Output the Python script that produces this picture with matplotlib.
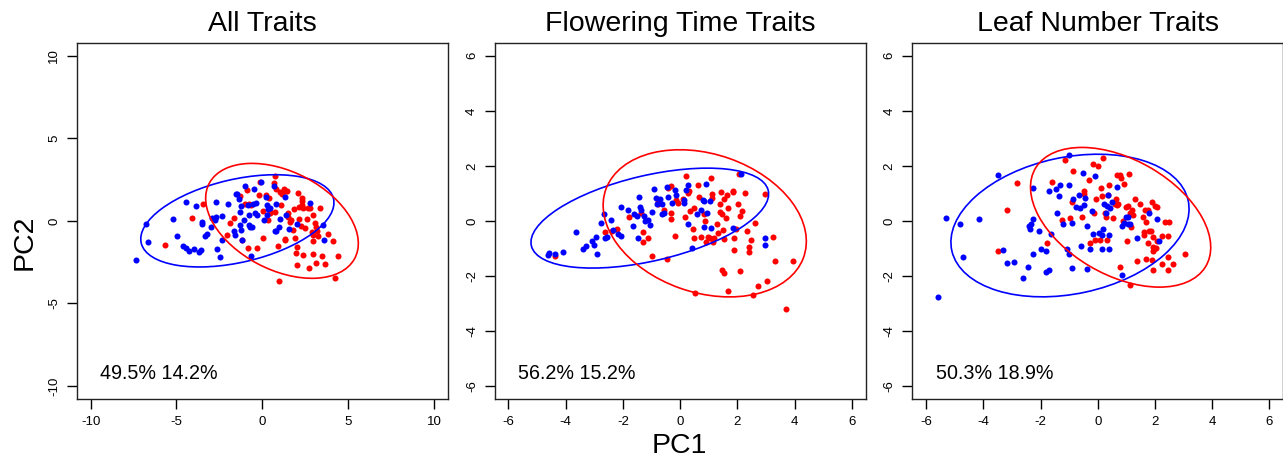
import matplotlib
matplotlib.use("Agg")
import matplotlib.pyplot as plt
from matplotlib.patches import Ellipse

plt.rcParams['font.family'] = ['Liberation Sans', 'DejaVu Sans']

titles = ["All Traits", "Flowering Time Traits", "Leaf Number Traits"]
variance_labels = ["49.5% 14.2%", "56.2% 15.2%", "50.3% 18.9%"]
axis_limits = [10, 6, 6]
tick_values = [[-10, -5, 0, 5, 10], [-6, -4, -2, 0, 2, 4, 6], [-6, -4, -2, 0, 2, 4, 6]]

# ---------------- Panel 1: All Traits ----------------
all_blue_x = [-7.36, -6.78, -6.65, -5.17, -4.96, -4.42, -4.61, -4.42, -4.24, -3.97, -3.86, -3.68,
              -3.55, -3.53, -3.49, -3.33, -3.22, -3.00, -2.91, -2.73, -2.67, -2.62, -2.48, -2.67,
              -2.33, -2.35, -2.00, -1.65, -1.61, -1.55, -1.47, -1.36, -1.32, -1.28, -1.26, -1.26,
              -1.18, -1.05, -0.99, -0.83, -0.78, -0.78, -0.74, -0.66, -0.58, -0.52, -0.47, -0.43,
              -0.35, -0.29, -0.06, 0.10, 0.19, 0.25, 0.29, 0.33, 0.43, 0.68, 0.72, 0.78, 0.81,
              0.97, 1.05, 1.30, 1.40, 1.55, 2.03, 2.81, 3.55, 3.59]
all_blue_y = [-2.35, -0.18, -1.26, 0.10, -0.93, 1.13, -1.52, -1.62, -1.82, -1.72, 0.93, -1.86,
              -1.78, -0.06, -0.22, -0.89, -0.81, -0.36, 0.20, 0.04, 1.13, -1.68, -2.19, 0.24,
              0.30, -1.17, 1.01, -0.61, -0.87, 1.62, 1.60, 1.30, 0.51, -0.26, -0.57, 0.91,
              -1.17, 0.04, 2.13, 0.95, 0.34, -0.26, -0.40, -2.15, -0.36, 1.01, 1.92, 0.45,
              1.11, 0.36, 2.35, 0.04, 1.46, 0.97, 0.36, 0.69, 0.79, 2.13, -0.61, 1.01, -0.63,
              -0.36, 0.10, 1.42, 0.36, -0.47, -0.22, 1.11, -0.28, -1.17]
all_red_x = [-5.64, -4.07, -3.47, -2.07, -1.86, -1.67, -1.28, -1.20, -0.89, -1.01, -0.83, -0.78,
             -0.66, -0.29, -0.16, -0.14, 0.04, 0.04, 0.23, 0.33, 0.41, 0.43, 0.47, 0.72, 0.68,
             0.72, 0.81, 0.93, 0.99, 1.05, 1.07, 1.14, 1.26, 1.36, 1.43, 1.30, 1.34, 1.51, 1.51,
             1.59, 1.69, 1.78, 1.84, 1.88, 1.98, 2.00, 2.03, 2.07, 2.13, 2.17, 2.25, 2.29, 2.31,
             2.36, 2.34, 2.40, 2.50, 2.62, 2.67, 2.71, 2.81, 2.89, 2.95, 2.98, 2.98, 3.06, 3.12,
             3.14, 3.20, 3.24, 3.39, 3.47, 3.63, 3.84, 4.11, 4.22, 4.40, 2.95]
all_red_y = [-1.44, 0.18, 1.01, -0.85, -0.12, 0.18, 1.50, -1.13, 1.86, 1.05, -1.66, 1.05,
             0.95, -1.66, 1.56, 2.37, -1.01, 0.61, 1.54, 0.04, 1.38, 0.45, 0.53, 2.71, 2.31,
             0.53, 1.96, -1.54, -3.64, 1.76, 0.99, 1.62, 1.92, 1.80, 1.82, -1.09, -1.17, 0.45, 0.24,
             -0.06, 0.04, -0.57, 0.71, -1.03, -1.92, -1.58, -2.69, 1.66, 0.14, 0.81, -0.32, 0.99, 1.23,
             -2.08, 1.36, 0.75, -0.43, 0.14, 0.75, -2.85, 0.75, -0.67, -1.21, -2.02, 0.38, -0.16, -0.36,
             -2.55, -0.61, -0.93, 0.79, -2.15, -2.59, -0.77, -1.21, -3.44, -2.11, -0.87]

# ---------------- Panel 2: Flowering Time Traits ----------------
ft_blue_x = [-4.63, -4.59, -4.37, -4.11, -3.65, -3.40, -3.30, -3.09, -3.00, -2.90, -2.94, -2.77,
             -2.65, -2.62, -2.56, -2.42, -2.35, -2.16, -2.07, -2.06, -1.81, -1.63, -1.61, -1.52,
             -1.42, -1.46, -1.40, -1.38, -1.26, -1.22, -1.11, -1.05, -0.97, -0.93, -0.84, -0.80,
             -0.70, -0.65, -0.58, -0.64, -0.45, -0.41, -0.29, -0.17, -0.13, 0.15, 0.15, 0.21,
             0.27, 0.29, 0.43, 0.58, 0.72, 0.79, 0.82, 0.85, 0.90, 0.93, 1.03, 1.08, 1.84, 2.13,
             2.97, 2.96]
ft_blue_y = [-1.25, -1.16, -1.22, -1.12, -0.42, -1.03, -0.93, -0.74, -0.87, -1.22, -0.58, -0.06,
             0.25, -0.62, -0.58, 0.02, -0.34, -0.48, -0.56, 0.50, 0.39, -0.18, 0.24, 0.18,
             0.87, -0.61, 0.51, 0.41, 0.18, -0.01, 0.02, -0.16, 0.33, 1.15, 0.82, 0.63,
             0.81, 0.24, 0.27, 0.63, 1.24, 0.85, 0.65, 1.12, 0.93, 0.75, 0.65, 1.12,
             1.30, -0.12, -0.97, 0.24, 0.39, 0.75, 0.72, -0.24, 1.33, 0.30, 0.72, -0.25, -0.25, 1.71,
             -0.62, -0.88]
ft_red_x = [-4.38, -2.62, -2.37, -2.21, -1.77, -1.38, -1.31, -1.31, -1.13, -1.00, -0.78, -0.76,
            -0.55, -0.47, -0.44, -0.31, -0.31, -0.33, -0.17, -0.15, -0.08, 0.10, 0.17, 0.20,
            0.26, 0.31, 0.36, 0.47, 0.45, 0.50, 0.52, 0.62, 0.66, 0.73, 0.82, 0.87, 0.91, 0.97,
            1.05, 1.08, 1.11, 1.13, 1.14, 1.19, 1.28, 1.31, 1.38, 1.41, 1.43, 1.46, 1.49, 1.52,
            1.46, 1.52, 1.55, 1.60, 1.63, 1.66, 1.69, 1.84, 1.86, 1.89, 1.90, 1.95, 2.04, 2.05,
            2.10, 2.10, 2.18, 2.27, 2.33, 2.41, 2.41, 2.48, 2.53, 2.62, 2.72, 2.95, 3.05, 3.23,
            3.30, 3.71, 3.96]
ft_red_y = [-1.27, -0.42, -0.36, -0.30, 0.15, 0.30, -0.42, -0.76, -0.62, -1.26, 0.61, 0.69,
            0.41, -1.37, 1.18, 1.27, 0.29, 0.08, -0.55, 0.75, 0.65, 0.81, 0.15, 1.62,
            1.02, 1.08, 0.35, 0.48, -0.29, -0.64, -2.64, 1.30, 0.85, -0.58, 0.24, 0.00, -0.76, -0.58,
            -0.64, 1.54, 0.97, 0.84, -0.76, -0.62, -0.13, -0.44, 0.33, 0.63, 1.05, 0.24, -0.32, -0.67,
            -1.79, -1.88, 0.78, 0.11, 0.93, 0.48, -2.55, 1.09, 1.05, -0.62, -1.07, -0.28, 0.63, 1.72,
            0.19, -1.83, 0.36, 1.03, -0.36, -0.95, -1.13, -0.70, -2.68, -0.07, -2.38, 0.99, -2.18, -0.58,
            -1.47, -3.22, -1.45]

# ---------------- Panel 3: Leaf Number Traits ----------------
ln_blue_x = [-5.60, -5.30, -4.81, -4.71, -4.14, -3.47, -3.32, -3.18, -2.91, -2.60, -2.43, -2.40,
             -2.36, -2.33, -2.28, -2.25, -2.25, -2.05, -1.99, -1.82, -1.80, -1.69, -1.72, -1.64,
             -1.46, -1.41, -1.37, -1.32, -1.22, -1.08, -1.02, -1.01, -1.00, -0.90, -0.90, -0.87,
             -0.77, -0.66, -0.62, -0.59, -0.50, -0.48, -0.43, -0.38, -0.36, -0.27, -0.20, -0.17,
             -0.08, 0.06, 0.15, 0.16, 0.20, 0.23, 0.29, 0.34, 0.37, 0.41, 0.41, 0.44, 0.50, 0.69,
             0.85, 0.86, 0.92, 0.98, 1.05, 1.05, 1.13, 1.36, 1.80, 2.06, 2.15]
ln_blue_y = [-2.76, 0.12, -0.10, -1.31, 0.07, 1.67, -1.05, -1.55, -1.49, -2.06, -1.67, -0.19,
             -0.28, -0.10, 0.05, -1.19, 1.19, -0.38, -1.04, -1.09, -1.85, -1.79, 1.08, -0.46,
             1.14, 0.30, 0.91, 1.30, -0.12, -1.04, 1.32, -1.20, 2.41, -0.07, -1.71, 0.78,
             0.51, 0.93, 0.45, -0.92, 1.75, 0.59, 0.82, -1.75, -0.19, -1.04, 0.36, -0.48,
             1.62, -0.44, -1.04, -0.50, -0.30, 0.63, 0.30, 0.55, 0.93, -0.52, -1.01, 0.45, 0.67, 1.22,
             -1.96, -0.17, -0.07, 0.15, 0.15, -0.10, -0.13, -0.64, 0.27, 0.05, -0.74]
ln_red_x = [-3.47, -3.18, -2.82, -1.76, -1.61, -1.25, -1.13, -0.97, -0.91, -0.87, -0.54, -0.49,
            -0.47, -0.29, -0.28, -0.15, -0.12, -0.09, -0.07, 0.01, 0.08, 0.12, 0.14, 0.20,
            0.27, 0.29, 0.33, 0.38, 0.37, 0.52, 0.59, 0.64, 0.69, 0.72, 0.69, 0.77, 0.81, 0.93,
            0.78, 0.87, 0.99, 1.04, 1.07, 1.12, 1.11, 1.13, 1.15, 1.19, 1.22, 1.30, 1.36, 1.48,
            1.62, 1.62, 1.65, 1.69, 1.70, 1.75, 1.77, 1.80, 1.85, 1.89, 1.91, 1.92, 1.93, 1.92,
            1.94, 1.98, 2.00, 2.04, 2.08, 2.08, 2.26, 2.26, 2.35, 2.44, 2.44, 2.50, 2.64, 3.06,
            2.44, 1.59]
ln_red_y = [-1.09, 0.41, 1.38, -0.79, 1.41, 0.02, 2.23, 0.11, 0.69, 1.82, 0.15, 0.97,
            1.10, 1.50, -0.82, 2.08, 0.30, -0.68, 0.78, 2.00, -0.68, 1.19, 0.90, 2.27,
            0.29, 0.13, -0.70, 1.32, 0.95, 0.12, 0.61, 0.78, 0.58, 0.63, 1.68, 1.66, 1.56, 1.33,
            -1.67, 0.00, 0.51, -0.73, 0.53, 0.29, 1.70, -2.34, -0.22, 0.39, 0.21, 0.78, -1.45, 0.61,
            -0.39, -0.52, 0.39, -0.04, -1.37, 0.39, -0.80, -0.36, -0.38, -1.43, 0.69, -0.95, -1.09, -1.79,
            -0.58, -1.04, 0.55, -1.00, 0.51, -0.75, -0.56, -1.58, -0.04, -1.33, -1.79, -0.04, -1.58, -1.22,
            -0.56, 0.15]

# Ellipses: centre x, centre y, semi-major, semi-minor, angle (deg)
blue_ellipses = [(-1.45, 0.00, 5.76, 2.51, 13.7),
                 (-1.06, 0.10, 4.26, 1.55, 13.8),
                 (-0.97, -0.17, 4.23, 2.48, 12.7)]
red_ellipses = [(1.15, 0.00, 4.81, 2.96, -28.9),
                (0.86, -0.09, 3.67, 2.51, -20.2),
                (0.80, 0.13, 3.47, 2.08, -31.6)]

panels = [(all_blue_x, all_blue_y, all_red_x, all_red_y),
          (ft_blue_x, ft_blue_y, ft_red_x, ft_red_y),
          (ln_blue_x, ln_blue_y, ln_red_x, ln_red_y)]

BLUE = "#0000ff"
RED = "#ff0000"

fig = plt.figure(figsize=(12.83, 4.63), dpi=100)
lefts = [0.0599, 0.3856, 0.7111]
width = 0.2890
bottom, height = 0.138, 0.770

for i, (bx, by, rx, ry) in enumerate(panels):
    ax = fig.add_axes([lefts[i], bottom, width, height])
    lim = axis_limits[i]
    ax.scatter(rx, ry, s=19, c=RED, linewidths=0, zorder=3)
    ax.scatter(bx, by, s=19, c=BLUE, linewidths=0, zorder=3)
    for (cx, cy, a, b, ang), col in ((blue_ellipses[i], BLUE), (red_ellipses[i], RED)):
        ax.add_patch(Ellipse((cx, cy), 2 * a, 2 * b, angle=ang, fill=False,
                             edgecolor=col, linewidth=1.2, zorder=4))
    ax.set_xlim(-lim * 1.08, lim * 1.08)
    ax.set_ylim(-lim * 1.08, lim * 1.08)
    ax.set_xticks(tick_values[i])
    ax.set_yticks(tick_values[i])
    ax.set_xticklabels([str(t) for t in tick_values[i]])
    ax.set_yticklabels([str(t) for t in tick_values[i]], rotation=90, va='center')
    ax.tick_params(direction='out', length=7, width=1, labelsize=9.5, colors='black', pad=5)
    for sp in ax.spines.values():
        sp.set_linewidth(1.0)
        sp.set_color('#222222')
    ax.set_title(titles[i], fontsize=20.5, pad=8)
    ax.text(-0.6 * lim, -0.925 * lim, variance_labels[i], ha='center', va='center', fontsize=14.2)

fig.text(0.019, 0.476, "PC2", rotation=90, ha='center', va='center', fontsize=20.5)
fig.text(0.5296, 0.037, "PC1", ha='center', va='center', fontsize=20.5)

fig.savefig("out.png", dpi=100)
